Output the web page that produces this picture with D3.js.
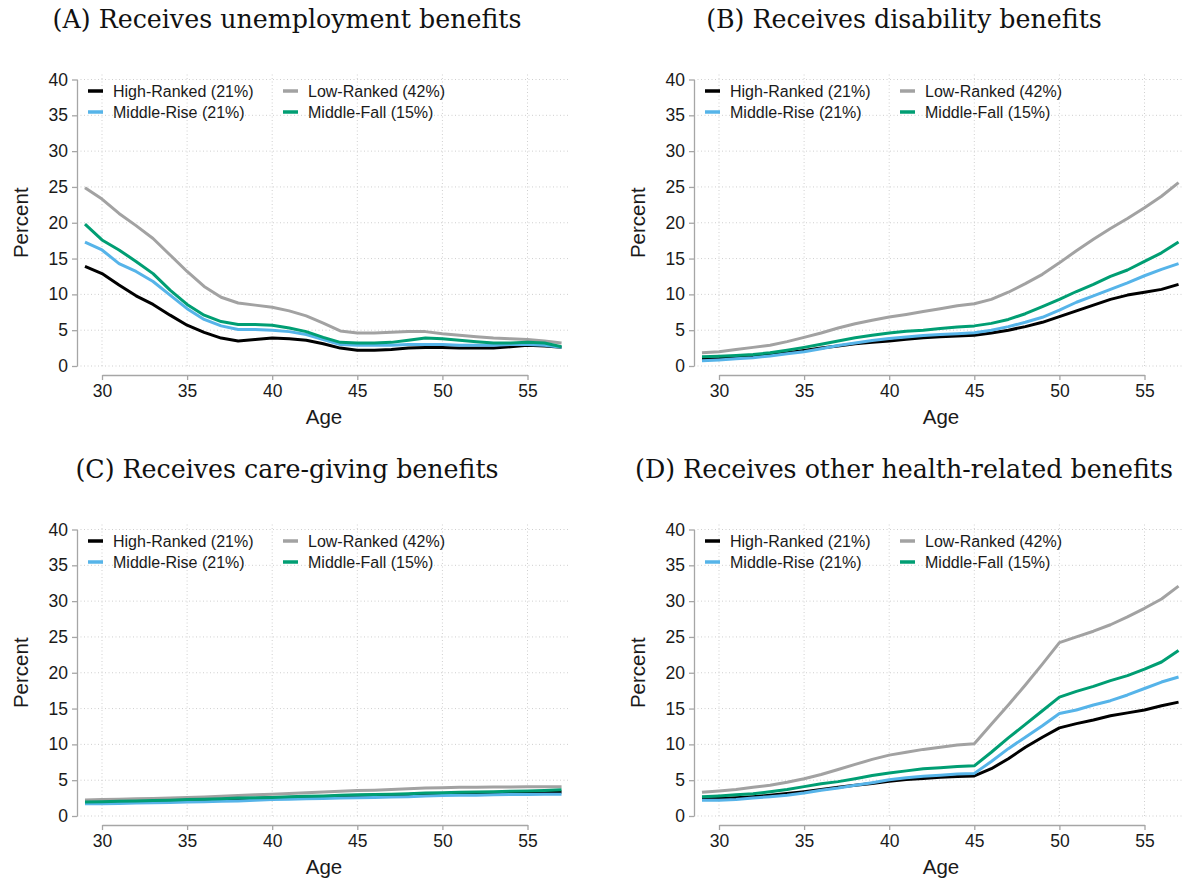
<!DOCTYPE html>
<html><head><meta charset="utf-8">
<script src="https://cdn.jsdelivr.net/npm/d3@7"></script>
<style>body{margin:0;background:#fff} svg{display:block}</style>
</head><body><svg id="c" width="1184" height="883"></svg>
<script>
// ---------- data ----------
const ages = [29,30,31,32,33,34,35,36,37,38,39,40,41,42,43,44,45,46,47,48,49,50,51,52,53,54,55,56,57];
const xTicks = [30,35,40,45,50,55];
const yTicks = [0,5,10,15,20,25,30,35,40];
const groupNames = ["High-Ranked (21%)","Low-Ranked (42%)","Middle-Rise (21%)","Middle-Fall (15%)"];
const groupColors = ["#000000","#a2a2a2","#56b4e9","#009e73"];
const panelTitles = ["(A) Receives unemployment benefits","(B) Receives disability benefits","(C) Receives care-giving benefits","(D) Receives other health-related benefits"];

const unempHigh = [13.9,12.9,11.3,9.8,8.6,7.1,5.7,4.7,3.9,3.5,3.7,3.9,3.8,3.6,3.1,2.5,2.2,2.2,2.3,2.5,2.6,2.6,2.5,2.5,2.5,2.7,2.9,2.8,2.6];
const unempLow  = [24.9,23.3,21.3,19.6,17.8,15.5,13.2,11.1,9.6,8.8,8.5,8.2,7.7,7.0,6.0,4.9,4.6,4.6,4.7,4.8,4.8,4.5,4.3,4.1,3.9,3.8,3.7,3.5,3.2];
const unempRise = [17.3,16.2,14.3,13.2,11.8,9.9,8.0,6.5,5.6,5.1,5.1,5.0,4.8,4.4,3.7,3.0,2.9,2.9,2.9,3.0,3.0,3.0,2.9,2.9,2.9,3.0,3.0,2.9,2.6];
const unempFall = [19.8,17.6,16.2,14.6,12.9,10.6,8.6,7.1,6.2,5.8,5.8,5.7,5.3,4.8,4.0,3.3,3.2,3.2,3.3,3.6,3.9,3.8,3.6,3.4,3.2,3.2,3.3,3.2,2.7];

const disabHigh = [1.0,1.05,1.2,1.35,1.55,1.85,2.15,2.5,2.8,3.1,3.3,3.5,3.75,3.95,4.1,4.2,4.3,4.6,5.0,5.5,6.1,6.9,7.7,8.5,9.3,9.9,10.3,10.7,11.4];
const disabLow  = [1.85,2.0,2.3,2.6,2.9,3.4,4.0,4.6,5.3,5.9,6.4,6.85,7.2,7.6,8.0,8.4,8.7,9.3,10.3,11.5,12.8,14.4,16.1,17.7,19.2,20.6,22.1,23.7,25.6];
const disabRise = [0.75,0.85,1.0,1.15,1.4,1.7,2.0,2.4,2.85,3.2,3.55,3.85,4.05,4.25,4.4,4.5,4.65,5.0,5.5,6.1,6.8,7.8,8.9,9.8,10.7,11.6,12.6,13.5,14.3];
const disabFall = [1.3,1.35,1.45,1.6,1.85,2.2,2.6,3.05,3.5,3.95,4.3,4.6,4.85,5.0,5.25,5.45,5.6,5.95,6.5,7.3,8.3,9.3,10.4,11.4,12.5,13.4,14.6,15.8,17.3];

const careHigh = [2.0,2.0,2.05,2.1,2.1,2.15,2.2,2.3,2.35,2.4,2.45,2.55,2.6,2.65,2.7,2.8,2.85,2.9,2.95,3.0,3.1,3.1,3.15,3.2,3.2,3.25,3.3,3.3,3.35];
const careLow  = [2.25,2.3,2.35,2.4,2.45,2.5,2.6,2.65,2.75,2.85,2.95,3.05,3.15,3.25,3.35,3.45,3.55,3.6,3.7,3.8,3.9,3.95,4.0,4.0,4.05,4.05,4.1,4.1,4.1];
const careRise = [1.7,1.72,1.75,1.8,1.85,1.9,1.95,2.0,2.05,2.1,2.2,2.3,2.35,2.4,2.45,2.5,2.55,2.6,2.65,2.7,2.8,2.85,2.9,2.9,2.95,3.0,3.0,3.05,3.05];
const careFall = [1.95,2.0,2.05,2.1,2.15,2.2,2.3,2.35,2.4,2.5,2.55,2.6,2.7,2.75,2.8,2.9,2.95,3.0,3.05,3.1,3.2,3.25,3.3,3.35,3.4,3.45,3.5,3.55,3.65];

const healthHigh = [2.4,2.45,2.55,2.7,2.9,3.15,3.4,3.7,4.0,4.3,4.55,4.85,5.1,5.25,5.4,5.5,5.6,6.6,8.0,9.6,11.0,12.3,12.9,13.4,14.0,14.4,14.8,15.4,15.9];
const healthLow  = [3.3,3.5,3.7,4.0,4.3,4.7,5.2,5.8,6.5,7.2,7.9,8.5,8.9,9.3,9.6,9.9,10.1,12.8,15.5,18.3,21.2,24.2,25.0,25.8,26.7,27.8,29.0,30.3,32.1];
const healthRise = [2.2,2.2,2.3,2.5,2.7,2.9,3.2,3.6,3.9,4.3,4.65,5.05,5.35,5.55,5.7,5.85,5.95,7.6,9.4,11.0,12.6,14.3,14.8,15.5,16.1,16.9,17.8,18.7,19.4];
const healthFall = [2.7,2.8,2.95,3.1,3.4,3.7,4.1,4.5,4.8,5.2,5.65,6.0,6.3,6.6,6.75,6.9,7.0,8.9,10.9,12.8,14.7,16.6,17.4,18.1,18.9,19.6,20.5,21.5,23.1];

const panelSeries = [
  [unempHigh, unempLow, unempRise, unempFall],
  [disabHigh, disabLow, disabRise, disabFall],
  [careHigh, careLow, careRise, careFall],
  [healthHigh, healthLow, healthRise, healthFall]
];

// ---------- layout ----------
const svg = d3.select("#c");
const SANS = "'Liberation Sans', Arial, Helvetica, sans-serif";
const SERIF = "'DejaVu Serif', serif";
const offsets = [[0,0],[617,0],[0,450],[617,450]];
const axisColor = "#a6a6a6";

panelSeries.forEach((series, p) => {
  const [dx, dy] = offsets[p];
  const g = svg.append("g").attr("transform", `translate(${dx},${dy})`);
  const x = d3.scaleLinear().domain([30,55]).range([102,527.5]);
  const y = d3.scaleLinear().domain([0,40]).range([366,79.5]);
  const yAxisX = 77, xAxisY = 375, plotRight = 568, gridTop = 72;

  // title
  g.append("text").attr("x", 287).attr("y", 28)
    .attr("text-anchor","middle").attr("font-family",SERIF).attr("font-size",25.3)
    .attr("fill","#111").text(panelTitles[p]);

  // grid
  g.append("g").selectAll("line").data(yTicks).join("line")
    .attr("x1", yAxisX).attr("x2", plotRight)
    .attr("y1", d=>y(d)).attr("y2", d=>y(d))
    .attr("stroke","#cfcfcf").attr("stroke-width",1).attr("stroke-dasharray","1,2.5");
  g.append("g").selectAll("line").data(xTicks).join("line")
    .attr("x1", d=>x(d)).attr("x2", d=>x(d))
    .attr("y1", y(0)).attr("y2", gridTop)
    .attr("stroke","#cfcfcf").attr("stroke-width",1).attr("stroke-dasharray","1,2.5");

  // axes
  const ya = g.append("g").attr("transform",`translate(${yAxisX},0)`)
    .call(d3.axisLeft(y).tickValues(yTicks).tickSize(5).tickSizeOuter(0).tickPadding(4));
  const xa = g.append("g").attr("transform",`translate(0,${xAxisY})`)
    .call(d3.axisBottom(x).tickValues(xTicks).tickSize(5).tickSizeOuter(0).tickPadding(5));
  [ya, xa].forEach(a => {
    a.select(".domain").attr("stroke",axisColor).attr("stroke-width",1.3);
    a.selectAll(".tick line").attr("stroke",axisColor).attr("stroke-width",1.3);
    a.selectAll(".tick text").attr("font-family",SANS).attr("font-size",17.5).attr("fill","#1a1a1a");
  });

  // axis titles
  g.append("text").attr("x", 324).attr("y", 424).attr("text-anchor","middle")
    .attr("font-family",SANS).attr("font-size",20.5).attr("fill","#1a1a1a").text("Age");
  g.append("text").attr("transform",`translate(28,${(y(0)+y(40))/2}) rotate(-90)`)
    .attr("text-anchor","middle").attr("font-family",SANS).attr("font-size",20.5)
    .attr("fill","#1a1a1a").text("Percent");

  // lines
  const line = d3.line().x((d,i)=>x(ages[i])).y(d=>y(d));
  series.forEach((s, k) => {
    g.append("path").datum(s).attr("d", line)
      .attr("fill","none").attr("stroke",groupColors[k]).attr("stroke-width",3)
      .attr("stroke-linejoin","round");
  });

  // legend
  const legPos = [[88,91],[283,91],[88,112],[283,112]];
  groupNames.forEach((name,k) => {
    const [lx, ly] = legPos[k];
    g.append("line").attr("x1",lx).attr("x2",lx+15).attr("y1",ly).attr("y2",ly)
      .attr("stroke",groupColors[k]).attr("stroke-width",3.5);
    g.append("text").attr("x",lx+25).attr("y",ly+5.5)
      .attr("font-family",SANS).attr("font-size",16).attr("fill","#1a1a1a").text(name);
  });
});
</script>
</body></html>
